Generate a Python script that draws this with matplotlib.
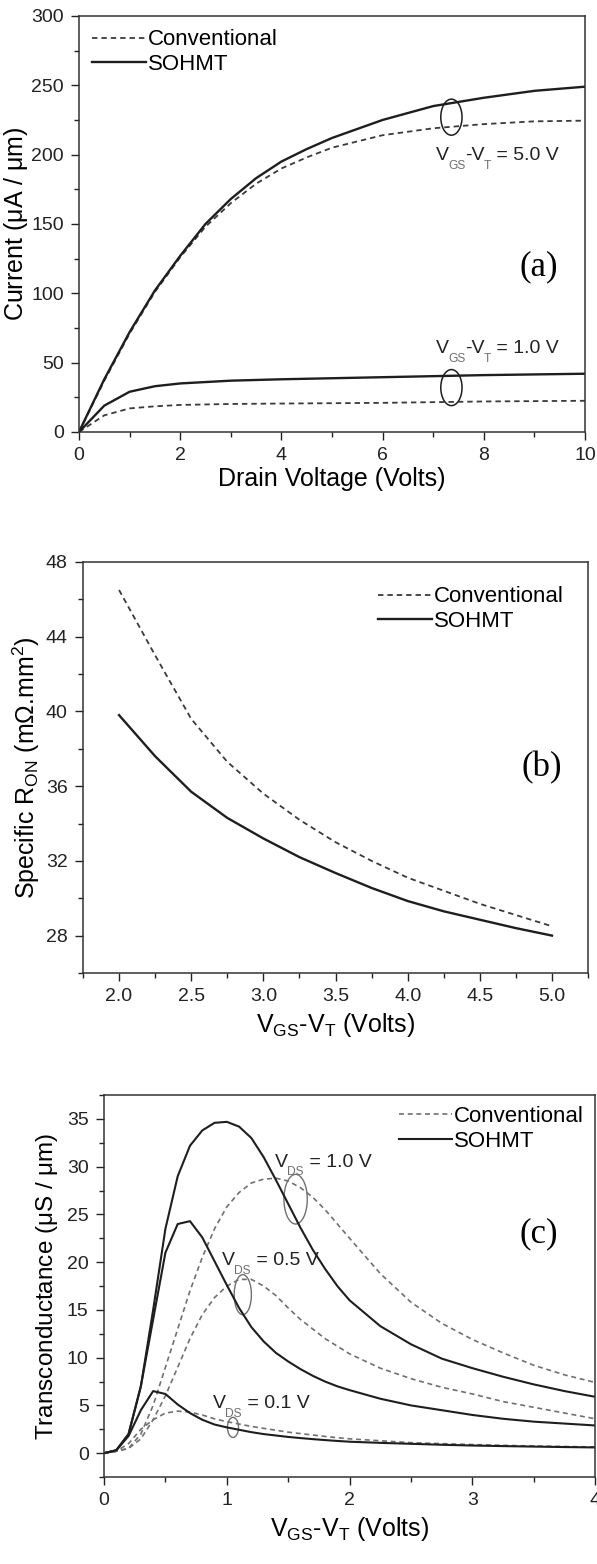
import numpy as np
import matplotlib
matplotlib.use("Agg")
import matplotlib.pyplot as plt
from matplotlib.patches import Ellipse
from matplotlib.ticker import MultipleLocator

plt.rcParams['font.family'] = ['Liberation Sans', 'DejaVu Sans']
plt.rcParams['mathtext.fontset'] = 'custom'
plt.rcParams['mathtext.rm'] = 'Liberation Sans'
plt.rcParams['mathtext.it'] = 'Liberation Sans'

# %% panel (a) data: output characteristics
vd = [0, 0.5, 1, 1.5, 2, 2.5, 3, 3.5, 4, 4.5, 5, 6, 7, 8, 9, 10]
soh_5v = [0, 38, 72, 102, 127, 150, 168, 183, 195, 204, 212, 225, 235, 241, 246, 249]
conv_5v = [0, 37, 71, 101, 126, 148, 165, 179, 190, 198, 205, 214, 219, 222, 224, 224.5]
vd_lo = [0, 0.5, 1, 1.5, 2, 3, 4, 6, 8, 10]
soh_1v = [0, 19, 29, 33, 35, 37, 38, 39.5, 41, 42]
conv_1v = [0, 12, 17, 18.5, 19.5, 20.2, 20.5, 21, 22, 22.5]

# %% panel (b) data: specific on-resistance
vg_b = [2.0, 2.25, 2.5, 2.75, 3.0, 3.25, 3.5, 3.75, 4.0, 4.25, 4.5, 4.75, 5.0]
ron_conv = [46.5, 43.0, 39.6, 37.3, 35.6, 34.2, 33.0, 32.0, 31.1, 30.4, 29.7, 29.1, 28.5]
ron_soh = [39.8, 37.6, 35.7, 34.3, 33.2, 32.2, 31.35, 30.55, 29.85, 29.3, 28.85, 28.4, 28.0]

# %% panel (c) data: transconductance
vg_c = [0, 0.1, 0.2, 0.3, 0.4, 0.5, 0.6, 0.7, 0.8, 0.9, 1.0,
        1.1, 1.2, 1.3, 1.4, 1.5, 1.6, 1.7, 1.8, 1.9, 2.0,
        2.25, 2.5, 2.75, 3.0, 3.25, 3.5, 3.75, 4.0]
gm_soh_10 = [0, 0.3, 2, 7, 15, 23.5, 29, 32.2, 33.8, 34.6, 34.7,
             34.2, 33, 31, 28.6, 26.1, 23.6, 21.3, 19.3, 17.5, 16.0,
             13.3, 11.4, 9.9, 8.9, 8.0, 7.2, 6.5, 5.9]
gm_soh_05 = [0, 0.3, 2, 7, 14, 21, 24, 24.3, 22.6, 20.1, 17.6,
             15.2, 13.2, 11.7, 10.5, 9.6, 8.8, 8.1, 7.5, 7.0, 6.6,
             5.7, 5.0, 4.5, 4.0, 3.6, 3.3, 3.1, 2.9]
gm_soh_01 = [0, 0.3, 1.8, 4.5, 6.5, 6.2, 5.1, 4.2, 3.5, 3.0, 2.7,
             2.45, 2.2, 2.0, 1.85, 1.7, 1.58, 1.47, 1.37, 1.28, 1.2,
             1.08, 0.98, 0.88, 0.8, 0.74, 0.69, 0.64, 0.6]
gm_conv_10 = [0, 0.2, 0.5, 2, 5, 9, 13, 17, 20.5, 23.5, 25.8,
              27.3, 28.3, 28.7, 28.8, 28.5, 27.8, 26.8, 25.5, 24.0, 22.5,
              18.8, 15.8, 13.6, 11.9, 10.5, 9.2, 8.2, 7.4]
gm_conv_05 = [0, 0.2, 0.5, 1.5, 3.5, 6, 9, 12, 14.5, 16.3, 17.5,
              18.2, 18.2, 17.5, 16.5, 15.2, 14, 13, 12, 11.2, 10.4,
              8.9, 7.8, 6.9, 6.2, 5.4, 4.8, 4.2, 3.6]
gm_conv_01 = [0, 0.2, 1.0, 2.5, 3.5, 4.2, 4.4, 4.3, 4.0, 3.6, 3.3,
              3.05, 2.8, 2.6, 2.4, 2.2, 2.05, 1.9, 1.75, 1.62, 1.5,
              1.3, 1.1, 1.0, 0.9, 0.82, 0.75, 0.7, 0.65]

dark = '#1e1e1e'
conv_col = '#3a3a3a'
gray = '#707070'
dash = (0, (3, 2.2))

fig = plt.figure(figsize=(5.97, 15.64), dpi=100)


def style_axes(ax):
    ax.tick_params(which='both', direction='out', top=False, right=False,
                   labelsize=14, width=1.0, colors='#222222')
    ax.tick_params(which='major', length=6, pad=5)
    ax.tick_params(which='minor', length=3.5)
    for s in ax.spines.values():
        s.set_linewidth(1.1)
        s.set_color('#333333')


def vlabel(ax, x, y, sub1, rest, sub2=None, size=14, subcol=gray):
    # V with small grey subscripts, drawn piece by piece
    t = ax.text(x, y, 'V', fontsize=size, va='bottom', ha='left', color='#222222')
    s = ax.annotate(sub1, xy=(0.95, 0.25), xycoords=t, fontsize=size * 0.62,
                    va='top', ha='left', color=subcol)
    last = s
    if sub2 is not None:
        t2 = ax.annotate('-V', xy=(1, 0), xycoords=(s, t), fontsize=size,
                         va='bottom', ha='left', color='#222222')
        s2 = ax.annotate(sub2, xy=(0.95, 0.25), xycoords=t2, fontsize=size * 0.62,
                         va='top', ha='left', color=subcol)
        last = s2
    ax.annotate(rest, xy=(1, 0), xycoords=(last, t), fontsize=size,
                va='bottom', ha='left', color='#222222')


# %% (a)
ax1 = fig.add_axes([0.1323, 0.7238, 0.8476, 0.266])
ax1.plot(vd, conv_5v, color=conv_col, lw=1.3, ls=dash, label='Conventional')
ax1.plot(vd, soh_5v, '-', color=dark, lw=1.7, label='SOHMT')
ax1.plot(vd_lo, conv_1v, color=conv_col, lw=1.3, ls=dash)
ax1.plot(vd_lo, soh_1v, '-', color=dark, lw=1.7)
ax1.set_xlim(0, 10)
ax1.set_ylim(0, 300)
ax1.xaxis.set_major_locator(MultipleLocator(2))
ax1.xaxis.set_minor_locator(MultipleLocator(1))
ax1.yaxis.set_major_locator(MultipleLocator(50))
ax1.yaxis.set_minor_locator(MultipleLocator(25))
style_axes(ax1)
ax1.set_xlabel('Drain Voltage (Volts)', fontsize=18, labelpad=2)
ax1.set_ylabel(r'Current ($\mu$A / $\mu$m)', fontsize=18, labelpad=1)
ax1.legend(loc='upper left', frameon=False, fontsize=16, handlelength=2.4,
           handletextpad=0.1, borderaxespad=0.3, borderpad=0.3, labelspacing=0.15)
ax1.add_patch(Ellipse((7.36, 227), 0.42, 26, fill=False, color=dark, lw=1.1))
ax1.add_patch(Ellipse((7.36, 32), 0.42, 26, fill=False, color=dark, lw=1.1))
vlabel(ax1, 7.05, 193, 'GS', ' = 5.0 V', sub2='T')
vlabel(ax1, 7.05, 54, 'GS', ' = 1.0 V', sub2='T')
ax1.text(9.09, 119, '(a)', fontsize=25, family='Liberation Serif', ha='center', va='center')

# %% (b)
ax2 = fig.add_axes([0.139, 0.3779, 0.846, 0.2628])
ax2.plot(vg_b, ron_conv, color=conv_col, lw=1.3, ls=dash, label='Conventional')
ax2.plot(vg_b, ron_soh, '-', color=dark, lw=1.7, label='SOHMT')
ax2.set_xlim(1.75, 5.25)
ax2.set_ylim(26, 48)
ax2.xaxis.set_major_locator(MultipleLocator(0.5))
ax2.xaxis.set_minor_locator(MultipleLocator(0.25))
ax2.yaxis.set_major_locator(MultipleLocator(4))
ax2.yaxis.set_minor_locator(MultipleLocator(2))
ax2.xaxis.set_major_formatter(plt.FormatStrFormatter('%.1f'))
style_axes(ax2)
ax2.set_xlabel(r'V$_{\rm GS}$-V$_{\rm T}$ (Volts)', fontsize=18, labelpad=4)
ax2.set_ylabel(r'Specific R$_{\rm ON}$ (m$\Omega$.mm$^2$)', fontsize=18, labelpad=3)
ax2.legend(loc='upper right', frameon=False, fontsize=16, handlelength=2.4,
           handletextpad=0.1, borderaxespad=0.6, borderpad=0.5, labelspacing=0.15)
ax2.text(4.93, 37.0, '(b)', fontsize=25, family='Liberation Serif', ha='center', va='center')

# %% (c)
ax3 = fig.add_axes([0.1742, 0.0556, 0.823, 0.2442])
ax3.plot(vg_c, gm_conv_10, color=gray, lw=1.2, ls=dash, label='Conventional')
ax3.plot(vg_c, gm_soh_10, '-', color=dark, lw=1.5, label='SOHMT')
ax3.plot(vg_c, gm_conv_05, color=gray, lw=1.2, ls=dash)
ax3.plot(vg_c, gm_soh_05, '-', color=dark, lw=1.5)
ax3.plot(vg_c, gm_conv_01, color=gray, lw=1.2, ls=dash)
ax3.plot(vg_c, gm_soh_01, '-', color=dark, lw=1.5)
ax3.set_xlim(0, 4)
ax3.set_ylim(-2.5, 37.5)
ax3.xaxis.set_major_locator(MultipleLocator(1))
ax3.xaxis.set_minor_locator(MultipleLocator(0.5))
ax3.yaxis.set_major_locator(MultipleLocator(5))
ax3.yaxis.set_minor_locator(MultipleLocator(2.5))
style_axes(ax3)
ax3.set_xlabel(r'V$_{\rm GS}$-V$_{\rm T}$ (Volts)', fontsize=18, labelpad=4)
ax3.set_ylabel(r'Transconductance ($\mu$S / $\mu$m)', fontsize=17.5, labelpad=5)
ax3.legend(loc='upper right', frameon=False, fontsize=16, handlelength=2.4,
           handletextpad=0.1, borderaxespad=0.2, borderpad=0.3, labelspacing=0.15)
ax3.add_patch(Ellipse((1.56, 26.6), 0.19, 5.2, fill=False, color=gray, lw=1.0))
ax3.add_patch(Ellipse((1.13, 16.6), 0.14, 4.2, fill=False, color=gray, lw=1.0))
ax3.add_patch(Ellipse((1.05, 2.7), 0.09, 2.1, fill=False, color=gray, lw=1.0))
vlabel(ax3, 1.39, 29.6, 'DS', ' = 1.0 V')
vlabel(ax3, 0.96, 19.3, 'DS', ' = 0.5 V')
vlabel(ax3, 0.885, 4.3, 'DS', ' = 0.1 V')
ax3.text(3.54, 23, '(c)', fontsize=25, family='Liberation Serif', ha='center', va='center')

fig.savefig('out.png', dpi=100)
